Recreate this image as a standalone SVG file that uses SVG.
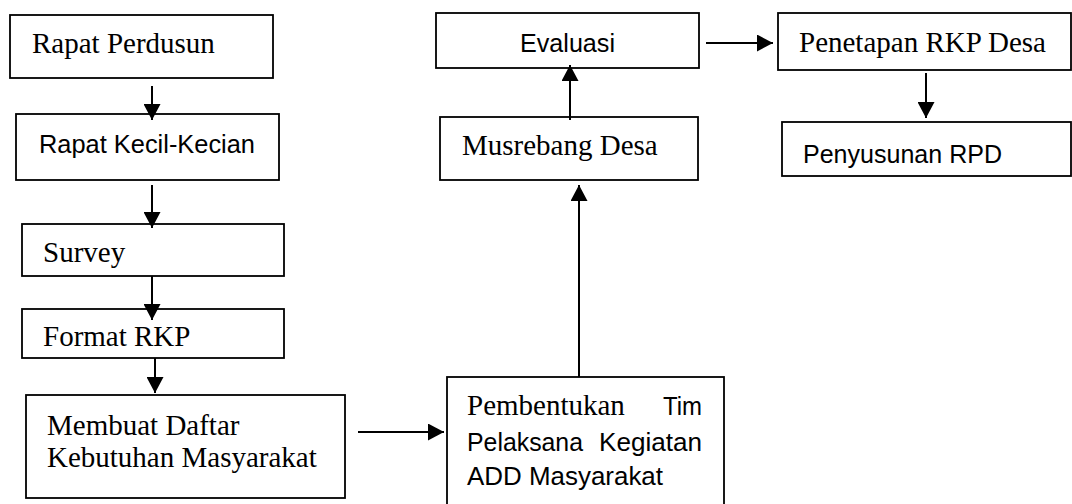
<svg xmlns="http://www.w3.org/2000/svg" width="1072" height="504" viewBox="0 0 1072 504">
<defs>
<marker id="ah" markerUnits="userSpaceOnUse" markerWidth="17" markerHeight="17" refX="16" refY="8.5" orient="auto">
<path d="M0,0 L16,8.5 L0,17 z" fill="#000"/>
</marker>
<style>
.box{fill:#fff;stroke:#000;stroke-width:1.8}
.ser{font-family:"Liberation Serif","Times New Roman",serif;font-size:29px;fill:#000}
.san{font-family:"Liberation Sans",Arial,sans-serif;font-size:26.5px;fill:#000}
.con{stroke:#000;stroke-width:2;fill:none;marker-end:url(#ah)}
</style>
</defs>
<rect width="1072" height="504" fill="#fff"/>
<g id="n1"><rect class="box" x="10" y="15" width="263" height="63"/><text class="ser" x="32" y="53">Rapat Perdusun</text></g>
<g id="n2"><rect class="box" x="16" y="114" width="263" height="66"/><text class="san" x="39" y="153" textLength="216" lengthAdjust="spacingAndGlyphs">Rapat Kecil-Kecian</text></g>
<g id="n3"><rect class="box" x="22" y="224" width="262" height="52"/><text class="ser" x="43" y="262">Survey</text></g>
<g id="n4"><rect class="box" x="22" y="309" width="262" height="49"/><text class="ser" x="43" y="346">Format RKP</text></g>
<g id="n5"><rect class="box" x="26" y="395" width="319" height="103"/><text class="ser" x="47" y="435">Membuat Daftar</text><text class="ser" x="47" y="467">Kebutuhan Masyarakat</text></g>
<g id="n6"><rect class="box" x="447" y="377" width="277" height="135"/>
<text class="ser" x="467" y="415">Pembentukan</text><text class="san" x="663" y="415" textLength="39" lengthAdjust="spacingAndGlyphs">Tim</text>
<text class="san" x="467" y="451" textLength="116" lengthAdjust="spacingAndGlyphs">Pelaksana</text><text class="san" x="599" y="451" textLength="103" lengthAdjust="spacingAndGlyphs">Kegiatan</text>
<text class="san" x="467" y="485" textLength="196" lengthAdjust="spacingAndGlyphs">ADD Masyarakat</text></g>
<g id="n7"><rect class="box" x="440" y="117" width="258" height="63"/><text class="ser" x="462" y="155">Musrebang Desa</text></g>
<g id="n8"><rect class="box" x="436" y="13" width="263" height="55"/><text class="san" x="520" y="52" textLength="95" lengthAdjust="spacingAndGlyphs">Evaluasi</text></g>
<g id="n9"><rect class="box" x="778" y="13" width="293" height="57"/><text class="ser" x="799" y="52">Penetapan RKP Desa</text></g>
<g id="n10"><rect class="box" x="782" y="122" width="289" height="54"/><text class="san" x="803" y="163" textLength="199" lengthAdjust="spacingAndGlyphs">Penyusunan RPD</text></g>
<g id="connectors">
<line class="con" x1="152" y1="86" x2="152" y2="120"/>
<line class="con" x1="152" y1="185" x2="152" y2="228"/>
<line class="con" x1="152" y1="276" x2="152" y2="320"/>
<line class="con" x1="155" y1="358" x2="155" y2="393"/>
<line class="con" x1="358" y1="432" x2="444" y2="432"/>
<line class="con" x1="579" y1="377" x2="579" y2="185"/>
<line class="con" x1="570" y1="120" x2="570" y2="65"/>
<line class="con" x1="706" y1="43" x2="773" y2="43"/>
<line class="con" x1="926" y1="73" x2="926" y2="118"/>
</g>
</svg>
